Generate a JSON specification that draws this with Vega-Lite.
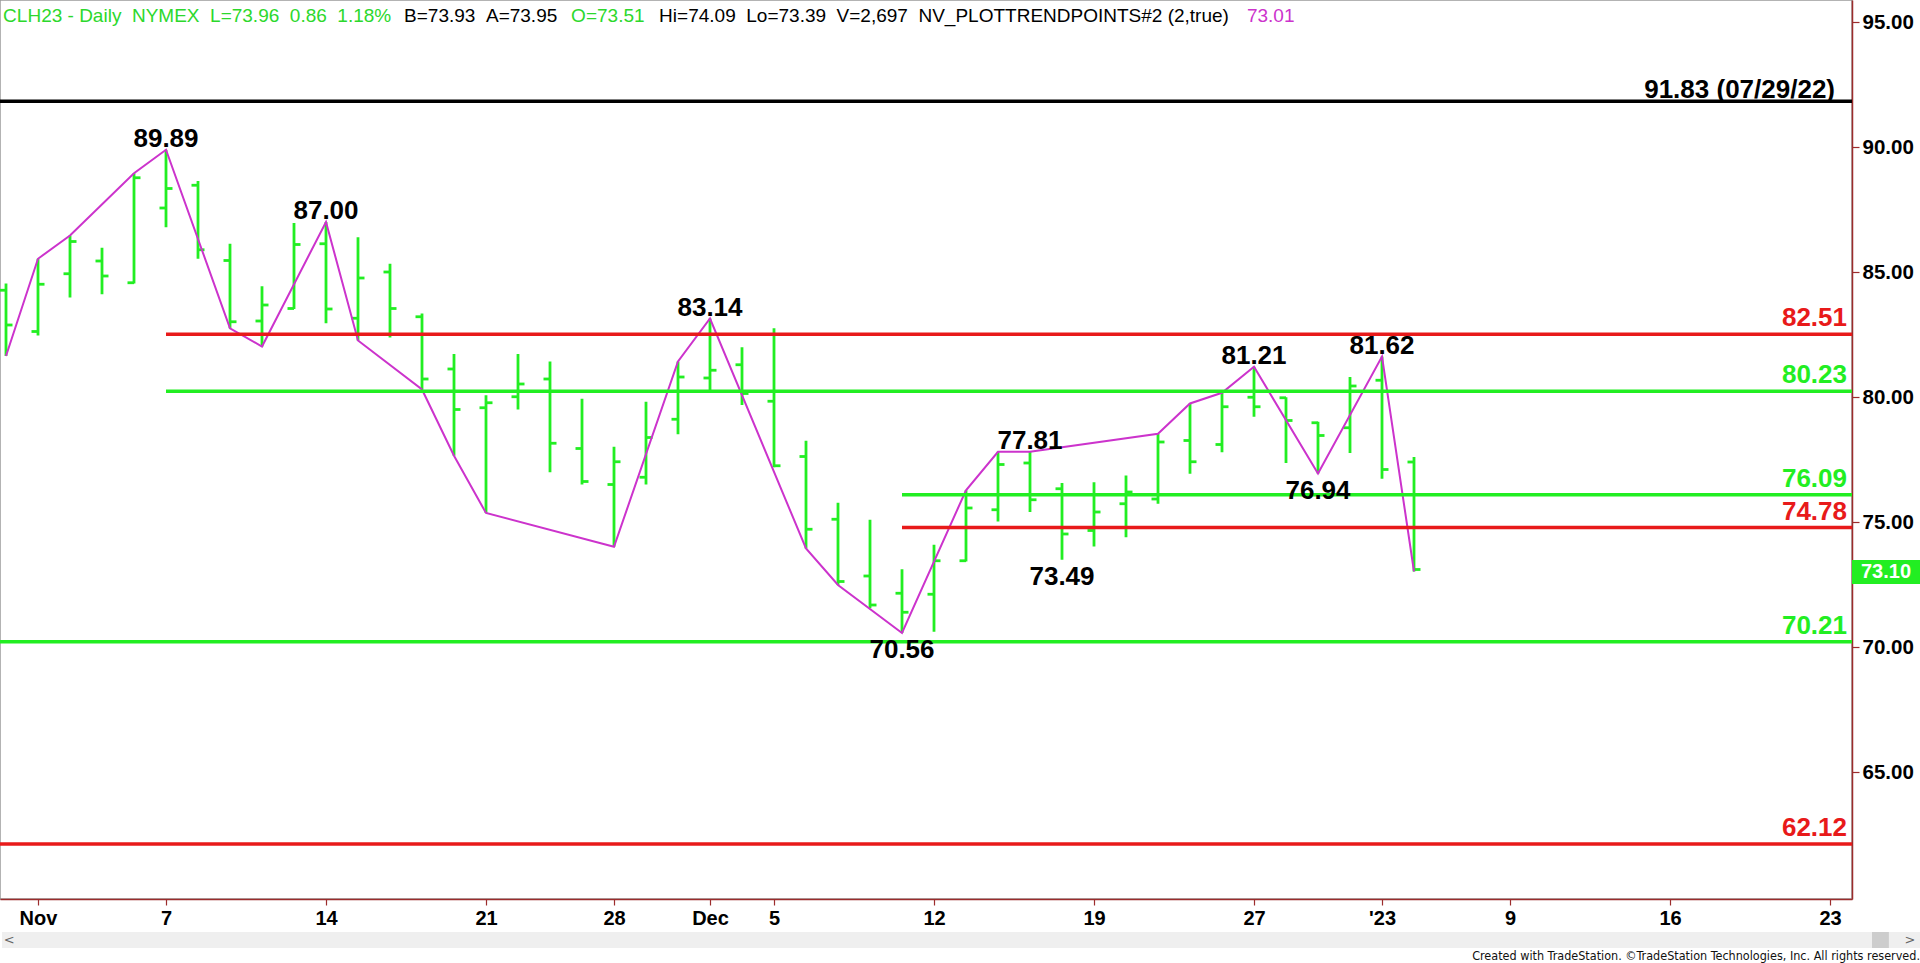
{
  "$schema": "https://vega.github.io/schema/vega-lite/v6.json",
  "width": 1852,
  "height": 899,
  "autosize": {"type": "none"},
  "padding": {"left": 0, "top": 0, "right": 68, "bottom": 64},
  "background": "white",
  "config": {"view": {"stroke": "#9a9a9a", "strokeWidth": 1.5}, "axis": {"grid": false}},
  "title": {
    "text": "Created with TradeStation. ©TradeStation Technologies, Inc. All rights reserved.",
    "orient": "bottom", "anchor": "end", "frame": "bounds",
    "font": "Liberation Sans Narrow, DejaVu Sans Condensed, sans-serif", "fontSize": 12.5, "fontWeight": "normal",
    "color": "#111111", "offset": 2, "baseline": "top"
  },
  "datasets": {
    "bars": [
      {"i": 0, "o": 84.27, "h": 84.54, "l": 81.64, "c": 82.88},
      {"i": 1, "o": 82.62, "h": 85.53, "l": 82.46, "c": 84.51},
      {"i": 2, "o": 84.93, "h": 86.46, "l": 83.98, "c": 86.22},
      {"i": 3, "o": 85.44, "h": 85.97, "l": 84.11, "c": 84.84},
      {"i": 4, "o": 84.57, "h": 88.95, "l": 84.54, "c": 88.77},
      {"i": 5, "o": 87.56, "h": 89.89, "l": 86.79, "c": 88.34},
      {"i": 6, "o": 88.47, "h": 88.64, "l": 85.53, "c": 85.89},
      {"i": 7, "o": 85.46, "h": 86.13, "l": 82.75, "c": 83.01},
      {"i": 8, "o": 83.04, "h": 84.43, "l": 82.02, "c": 83.68},
      {"i": 9, "o": 83.54, "h": 86.96, "l": 83.52, "c": 86.10},
      {"i": 10, "o": 86.13, "h": 87.00, "l": 82.95, "c": 83.52},
      {"i": 11, "o": 83.15, "h": 86.39, "l": 82.26, "c": 84.76},
      {"i": 12, "o": 85.00, "h": 85.33, "l": 82.38, "c": 83.54},
      {"i": 13, "o": 83.21, "h": 83.34, "l": 80.30, "c": 80.72},
      {"i": 14, "o": 81.12, "h": 81.72, "l": 77.65, "c": 79.50},
      {"i": 15, "o": 79.57, "h": 80.07, "l": 75.36, "c": 79.77},
      {"i": 16, "o": 80.01, "h": 81.72, "l": 79.50, "c": 80.52},
      {"i": 17, "o": 80.72, "h": 81.42, "l": 76.99, "c": 78.15},
      {"i": 18, "o": 77.94, "h": 79.93, "l": 76.50, "c": 76.62},
      {"i": 19, "o": 76.50, "h": 78.01, "l": 74.01, "c": 77.41},
      {"i": 20, "o": 76.79, "h": 79.81, "l": 76.50, "c": 78.38},
      {"i": 21, "o": 79.11, "h": 81.42, "l": 78.51, "c": 80.80},
      {"i": 22, "o": 80.76, "h": 83.14, "l": 80.23, "c": 81.07},
      {"i": 23, "o": 81.29, "h": 81.99, "l": 79.68, "c": 80.14},
      {"i": 24, "o": 79.83, "h": 82.75, "l": 77.19, "c": 77.25},
      {"i": 25, "o": 77.62, "h": 78.25, "l": 73.94, "c": 74.71},
      {"i": 26, "o": 75.11, "h": 75.77, "l": 72.48, "c": 72.62},
      {"i": 27, "o": 72.84, "h": 75.09, "l": 71.55, "c": 71.68},
      {"i": 28, "o": 72.15, "h": 73.11, "l": 70.56, "c": 71.39},
      {"i": 29, "o": 72.11, "h": 74.09, "l": 70.61, "c": 73.45},
      {"i": 30, "o": 73.45, "h": 76.27, "l": 73.42, "c": 75.56},
      {"i": 31, "o": 75.49, "h": 77.81, "l": 75.02, "c": 77.30},
      {"i": 32, "o": 77.36, "h": 77.81, "l": 75.40, "c": 75.89},
      {"i": 33, "o": 76.33, "h": 76.56, "l": 73.49, "c": 74.52},
      {"i": 34, "o": 74.66, "h": 76.59, "l": 74.02, "c": 75.40},
      {"i": 35, "o": 75.73, "h": 76.86, "l": 74.39, "c": 76.20},
      {"i": 36, "o": 75.92, "h": 78.53, "l": 75.73, "c": 78.20},
      {"i": 37, "o": 78.26, "h": 79.74, "l": 76.93, "c": 77.41},
      {"i": 38, "o": 78.10, "h": 80.17, "l": 77.79, "c": 79.61},
      {"i": 39, "o": 79.99, "h": 81.21, "l": 79.21, "c": 79.61},
      {"i": 40, "o": 79.97, "h": 79.99, "l": 77.36, "c": 79.06},
      {"i": 41, "o": 78.97, "h": 79.01, "l": 76.94, "c": 78.46},
      {"i": 42, "o": 78.77, "h": 80.80, "l": 77.76, "c": 80.44},
      {"i": 43, "o": 80.67, "h": 81.62, "l": 76.73, "c": 77.10},
      {"i": 44, "o": 77.40, "h": 77.60, "l": 73.02, "c": 73.10}
    ],
    "zig": [
      {"i": 0, "p": 81.64}, {"i": 1, "p": 85.53}, {"i": 2, "p": 86.46}, {"i": 4, "p": 88.95},
      {"i": 5, "p": 89.89}, {"i": 7, "p": 82.75}, {"i": 8, "p": 82.02}, {"i": 10, "p": 87.00},
      {"i": 11, "p": 82.26}, {"i": 13, "p": 80.30}, {"i": 14, "p": 77.65}, {"i": 15, "p": 75.36},
      {"i": 19, "p": 74.01}, {"i": 21, "p": 81.42}, {"i": 22, "p": 83.14}, {"i": 25, "p": 73.94},
      {"i": 26, "p": 72.48}, {"i": 28, "p": 70.56}, {"i": 30, "p": 76.27}, {"i": 31, "p": 77.81},
      {"i": 32, "p": 77.81}, {"i": 36, "p": 78.53}, {"i": 37, "p": 79.74}, {"i": 38, "p": 80.17},
      {"i": 39, "p": 81.21}, {"i": 41, "p": 76.94}, {"i": 43, "p": 81.62}, {"i": 44, "p": 73.02}
    ],
    "levels": [
      {"v": 91.83, "from": -1, "k": "b", "lab": "91.83 (07/29/22)"},
      {"v": 82.51, "from": 5, "k": "r", "lab": "82.51"},
      {"v": 80.23, "from": 5, "k": "g", "lab": "80.23"},
      {"v": 76.09, "from": 28, "k": "g", "lab": "76.09"},
      {"v": 74.78, "from": 28, "k": "r", "lab": "74.78"},
      {"v": 70.21, "from": -1, "k": "g", "lab": "70.21"},
      {"v": 62.12, "from": -1, "k": "r", "lab": "62.12"}
    ],
    "swings": [
      {"i": 5, "p": 89.89, "t": "H"}, {"i": 10, "p": 87.00, "t": "H"}, {"i": 22, "p": 83.14, "t": "H"},
      {"i": 32, "p": 77.81, "t": "H"}, {"i": 39, "p": 81.21, "t": "H"}, {"i": 43, "p": 81.62, "t": "H"},
      {"i": 28, "p": 70.56, "t": "L"}, {"i": 33, "p": 73.49, "t": "L"}, {"i": 41, "p": 76.94, "t": "L"}
    ],
    "header": [
      {"s": "CLH23 - Daily\u00a0\u00a0NYMEX\u00a0\u00a0L=73.96\u00a0\u00a00.86\u00a0\u00a01.18%", "k": "hg", "at": -0.09},
      {"s": "B=73.93\u00a0\u00a0A=73.95", "k": "b", "at": 12.44},
      {"s": "O=73.51", "k": "hg", "at": 17.66},
      {"s": "Hi=74.09\u00a0\u00a0Lo=73.39\u00a0\u00a0V=2,697\u00a0\u00a0NV_PLOTTRENDPOINTS#2 (2,true)", "k": "b", "at": 20.41},
      {"s": "73.01", "k": "m", "at": 38.78}
    ],
    "last": [{"v": 73.10}]
  },
  "layer": [
    {
      "data": {"name": "bars"},
      "mark": {"type": "rule", "color": "#22ee22", "strokeWidth": 2.8},
      "encoding": {
        "x": {
          "field": "i", "type": "quantitative",
          "scale": {"domain": [-0.1875, 57.6875], "nice": false, "zero": false},
          "axis": {
            "values": [1, 5, 10, 15, 19, 22, 24, 29, 34, 39, 43, 47, 52, 57],
            "labelExpr": "datum.value == 1 ? 'Nov' : datum.value == 5 ? '7' : datum.value == 10 ? '14' : datum.value == 15 ? '21' : datum.value == 19 ? '28' : datum.value == 22 ? 'Dec' : datum.value == 24 ? '5' : datum.value == 29 ? '12' : datum.value == 34 ? '19' : datum.value == 39 ? '27' : datum.value == 43 ? \"'23\" : datum.value == 47 ? '9' : datum.value == 52 ? '16' : '23'",
            "title": null, "grid": false,
            "domainColor": "#9c2c2c", "domainWidth": 1.5,
            "tickColor": "#9c2c2c", "tickSize": 6, "tickWidth": 1.2,
            "labelFont": "Liberation Sans", "labelFontWeight": "bold", "labelFontSize": 20,
            "labelColor": "#000000", "labelPadding": 3, "labelOverlap": false, "labelFlush": false
          }
        },
        "y": {
          "field": "l", "type": "quantitative",
          "scale": {"domain": [59.92, 95.88], "nice": false, "zero": false},
          "axis": {
            "orient": "right", "values": [65, 70, 75, 80, 85, 90, 95], "format": ".2f",
            "title": null, "grid": false,
            "domainColor": "#9c2c2c", "domainWidth": 1.5,
            "tickColor": "#9c2c2c", "tickSize": 7, "tickWidth": 1.2,
            "labelFont": "Liberation Sans", "labelFontWeight": "bold", "labelFontSize": 20.5,
            "labelColor": "#000000", "labelPadding": 3, "labelOverlap": false, "labelFlush": false
          }
        },
        "y2": {"field": "h"}
      }
    },
    {
      "data": {"name": "bars"},
      "mark": {"type": "rule", "color": "#22ee22", "strokeWidth": 2.8, "xOffset": -6.5, "x2Offset": 0},
      "encoding": {
        "x": {"field": "i", "type": "quantitative", "scale": {"domain": [-0.1875, 57.6875], "nice": false, "zero": false}},
        "x2": {"field": "i"},
        "y": {"field": "o", "type": "quantitative", "scale": {"domain": [59.92, 95.88], "nice": false, "zero": false}}
      }
    },
    {
      "data": {"name": "bars"},
      "mark": {"type": "rule", "color": "#22ee22", "strokeWidth": 2.8, "xOffset": 0, "x2Offset": 6.5},
      "encoding": {
        "x": {"field": "i", "type": "quantitative", "scale": {"domain": [-0.1875, 57.6875], "nice": false, "zero": false}},
        "x2": {"field": "i"},
        "y": {"field": "c", "type": "quantitative", "scale": {"domain": [59.92, 95.88], "nice": false, "zero": false}}
      }
    },
    {
      "data": {"name": "zig"},
      "mark": {"type": "line", "color": "#cc33cc", "strokeWidth": 2},
      "encoding": {
        "x": {"field": "i", "type": "quantitative", "scale": {"domain": [-0.1875, 57.6875], "nice": false, "zero": false}},
        "y": {"field": "p", "type": "quantitative", "scale": {"domain": [59.92, 95.88], "nice": false, "zero": false}}
      }
    },
    {
      "data": {"name": "levels"},
      "mark": {"type": "rule", "strokeWidth": 3.5, "clip": true},
      "encoding": {
        "x": {"field": "from", "type": "quantitative", "scale": {"domain": [-0.1875, 57.6875], "nice": false, "zero": false}},
        "x2": {"value": "width"},
        "y": {"field": "v", "type": "quantitative", "scale": {"domain": [59.92, 95.88], "nice": false, "zero": false}},
        "color": {"field": "k", "type": "nominal", "legend": null,
          "scale": {"domain": ["g", "r", "b", "m", "hg"], "range": ["#22ee22", "#e81a1a", "#000000", "#cc33cc", "#2cd82c"]}}
      }
    },
    {
      "data": {"name": "levels"},
      "transform": [{"filter": "datum.k != 'b'"}],
      "mark": {"type": "text", "align": "right", "baseline": "alphabetic", "dx": -5, "dy": -8,
        "font": "Liberation Sans", "fontWeight": "bold", "fontSize": 26},
      "encoding": {
        "x": {"value": "width"},
        "y": {"field": "v", "type": "quantitative", "scale": {"domain": [59.92, 95.88], "nice": false, "zero": false}},
        "text": {"field": "lab"},
        "color": {"field": "k", "type": "nominal", "legend": null,
          "scale": {"domain": ["g", "r", "b", "m", "hg"], "range": ["#22ee22", "#e81a1a", "#000000", "#cc33cc", "#2cd82c"]}}
      }
    },
    {
      "data": {"name": "levels"},
      "transform": [{"filter": "datum.k == 'b'"}],
      "mark": {"type": "text", "align": "right", "baseline": "alphabetic", "dx": -17, "dy": -3,
        "font": "Liberation Sans", "fontWeight": "bold", "fontSize": 26, "color": "#000000"},
      "encoding": {
        "x": {"value": "width"},
        "y": {"field": "v", "type": "quantitative", "scale": {"domain": [59.92, 95.88], "nice": false, "zero": false}},
        "text": {"field": "lab"}
      }
    },
    {
      "data": {"name": "swings"},
      "transform": [{"filter": "datum.t == 'H'"}],
      "mark": {"type": "text", "align": "center", "baseline": "alphabetic", "dy": -3,
        "font": "Liberation Sans", "fontWeight": "bold", "fontSize": 26, "color": "#000000"},
      "encoding": {
        "x": {"field": "i", "type": "quantitative", "scale": {"domain": [-0.1875, 57.6875], "nice": false, "zero": false}},
        "y": {"field": "p", "type": "quantitative", "scale": {"domain": [59.92, 95.88], "nice": false, "zero": false}},
        "text": {"field": "p", "type": "quantitative", "format": ".2f"}
      }
    },
    {
      "data": {"name": "swings"},
      "transform": [{"filter": "datum.t == 'L'"}],
      "mark": {"type": "text", "align": "center", "baseline": "alphabetic", "dy": 25,
        "font": "Liberation Sans", "fontWeight": "bold", "fontSize": 26, "color": "#000000"},
      "encoding": {
        "x": {"field": "i", "type": "quantitative", "scale": {"domain": [-0.1875, 57.6875], "nice": false, "zero": false}},
        "y": {"field": "p", "type": "quantitative", "scale": {"domain": [59.92, 95.88], "nice": false, "zero": false}},
        "text": {"field": "p", "type": "quantitative", "format": ".2f"}
      }
    },
    {
      "data": {"name": "last"},
      "mark": {"type": "rect", "color": "#22ee22", "x2Offset": 68, "height": 24, "yOffset": 2.5},
      "encoding": {
        "x": {"value": "width"},
        "x2": {"value": "width"},
        "y": {"field": "v", "type": "quantitative", "scale": {"domain": [59.92, 95.88], "nice": false, "zero": false}}
      }
    },
    {
      "data": {"name": "last"},
      "mark": {"type": "text", "align": "center", "baseline": "middle", "dx": 34, "dy": 2.5,
        "font": "Liberation Sans", "fontWeight": "bold", "fontSize": 20, "color": "#ffffff"},
      "encoding": {
        "x": {"value": "width"},
        "y": {"field": "v", "type": "quantitative", "scale": {"domain": [59.92, 95.88], "nice": false, "zero": false}},
        "text": {"field": "v", "type": "quantitative", "format": ".2f"}
      }
    },
    {
      "data": {"name": "header"},
      "mark": {"type": "text", "align": "left", "baseline": "alphabetic",
        "font": "Liberation Sans", "fontSize": 19},
      "encoding": {
        "x": {"field": "at", "type": "quantitative", "scale": {"domain": [-0.1875, 57.6875], "nice": false, "zero": false}},
        "y": {"datum": 95.0, "type": "quantitative", "scale": {"domain": [59.92, 95.88], "nice": false, "zero": false}},
        "text": {"field": "s"},
        "color": {"field": "k", "type": "nominal", "legend": null,
          "scale": {"domain": ["g", "r", "b", "m", "hg"], "range": ["#22ee22", "#e81a1a", "#000000", "#cc33cc", "#2cd82c"]}}
      }
    },
    {
      "data": {"values": [{}]},
      "mark": {"type": "rect", "color": "#efefef"},
      "encoding": {
        "x": {"datum": -0.125, "type": "quantitative", "scale": {"domain": [-0.1875, 57.6875], "nice": false, "zero": false}},
        "x2": {"datum": 59.8125},
        "y": {"datum": 58.6, "type": "quantitative", "scale": {"domain": [59.92, 95.88], "nice": false, "zero": false}},
        "y2": {"datum": 57.96}
      }
    },
    {
      "data": {"values": [{}]},
      "mark": {"type": "rect", "color": "#cdcdcd"},
      "encoding": {
        "x": {"datum": 58.3125, "type": "quantitative", "scale": {"domain": [-0.1875, 57.6875], "nice": false, "zero": false}},
        "x2": {"datum": 58.84},
        "y": {"datum": 58.6, "type": "quantitative", "scale": {"domain": [59.92, 95.88], "nice": false, "zero": false}},
        "y2": {"datum": 57.96}
      }
    },
    {
      "data": {"values": [{"a": "<", "at": 0.1}, {"a": ">", "at": 59.5}]},
      "mark": {"type": "text", "align": "center", "baseline": "middle", "font": "DejaVu Sans", "fontSize": 13, "color": "#666666"},
      "encoding": {
        "x": {"field": "at", "type": "quantitative", "scale": {"domain": [-0.1875, 57.6875], "nice": false, "zero": false}},
        "y": {"datum": 58.28, "type": "quantitative", "scale": {"domain": [59.92, 95.88], "nice": false, "zero": false}},
        "text": {"field": "a"}
      }
    }
  ]
}
